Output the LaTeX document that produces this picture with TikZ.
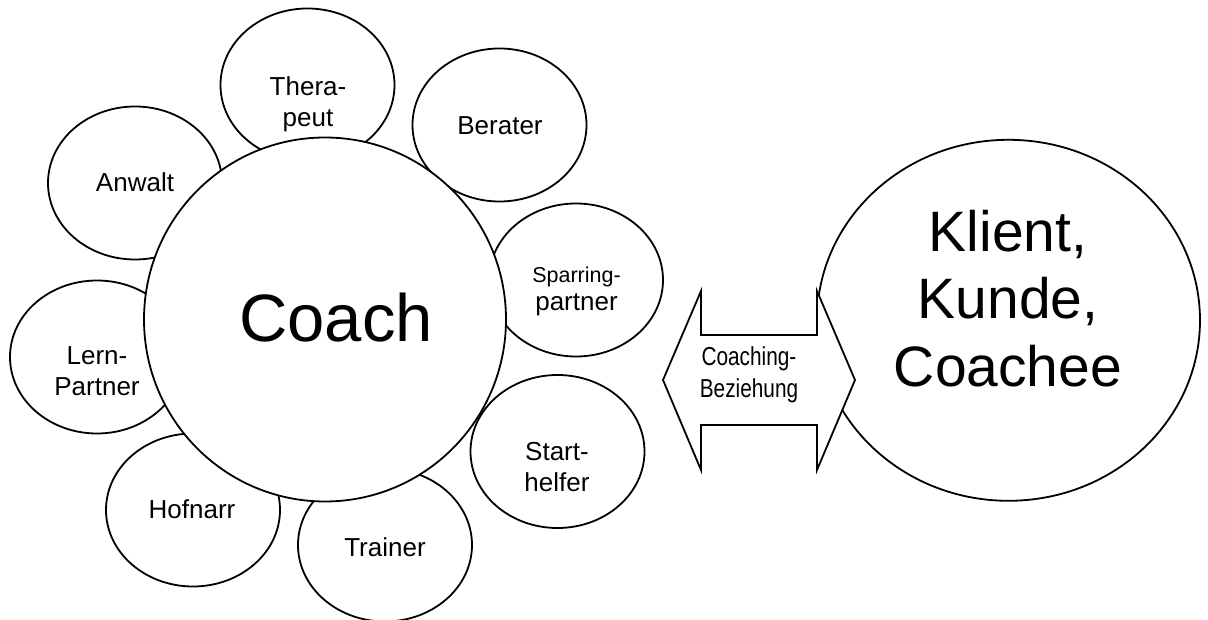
\documentclass[tikz,border=0pt]{standalone}
\usepackage{fontspec}
\setmainfont{Liberation Sans}
\usetikzlibrary{shapes.geometric}
\tikzset{
  role/.style={ellipse, draw, fill=white, line width=1.8pt, inner sep=0pt,
    minimum width=174pt, minimum height=153pt},
  bigcircle/.style={ellipse, draw, fill=white, line width=1.8pt, inner sep=0pt},
  small/.style={align=center, inner sep=0pt, font=\fontsize{26}{31}\selectfont},
}
\begin{document}
\begin{tikzpicture}[x=1pt, y=-1pt]
\useasboundingbox (0,0) rectangle (1208,620);
% role ellipses
\node[role] (ther) at (307.5,85) {};
\node[role] (ber)  at (499.5,125) {};
\node[role] (anw)  at (135,183) {};
\node[role] (spar) at (576,280) {};
\node[role] (lern) at (97,357) {};
\node[role] (start) at (557.5,451.5) {};
\node[role] (hof)  at (193,510) {};
\node[role] (trai) at (385,545) {};
% coach
\node[bigcircle, minimum width=362pt, minimum height=364pt] (coach) at (325,319.5) {};
% client
\node[bigcircle, minimum width=383pt, minimum height=361pt] (klient) at (1008.5,320.3) {};
% double arrow
\coordinate (al) at (663,380);
\coordinate (ar) at (855,380);
\draw[line width=1.8pt, fill=white, line join=miter]
  (al) -- (701,291) -- (701,335) -- (817,335) -- (817,291) -- (ar)
  -- (817,470) -- (817,425) -- (701,425) -- (701,470) -- cycle;
% texts
\node[small] (tther) at (308,104.75) {Thera-\\peut};
\node[small] (tber) at (500,125.5) {Berater};
\node[small] (tanw) at (135,182.5) {Anwalt};
\node[small] (tspar) at (576.5,291.75) {{\fontsize{21.5}{28}\selectfont Sparring-}\\[-3pt]partner};
\node[small] (tlern) at (97,371) {Lern-\\Partner};
\node[small] (tstart) at (557,467.5) {Start-\\helfer};
\node[small] (thof) at (192,509) {Hofnarr};
\node[small] (ttrai) at (385,547.5) {Trainer};
\node[inner sep=0pt, font=\fontsize{67}{80}\selectfont] (tcoach) at (336,317.5) {Coach};
\node[align=center, inner sep=0pt, font=\fontsize{57}{67.5}\selectfont] (tklient) at (1008,298.5) {Klient,\\Kunde,\\Coachee};
\node[align=center, inner sep=0pt, font=\fontsize{26}{32}\selectfont] (tbez) at (749,374.75) {\scalebox{0.8}[1]{Coaching-}\\\scalebox{0.8}[1]{Beziehung}};
\end{tikzpicture}
\end{document}
